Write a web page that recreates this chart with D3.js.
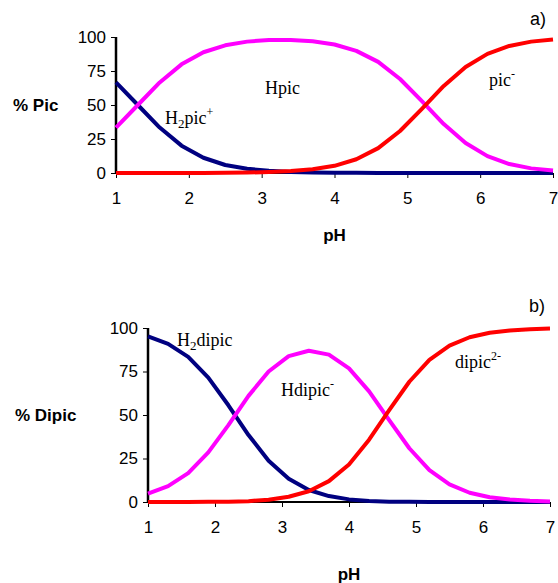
<!DOCTYPE html>
<html><head><meta charset="utf-8">
<script src="https://cdn.jsdelivr.net/npm/d3@7"></script>
<style>body{margin:0;background:#fff}svg{display:block}</style>
</head><body>
<svg id="c" width="558" height="583"></svg>
<script>
const pH = [1.0,1.3,1.6,1.9,2.2,2.5,2.8,3.1,3.4,3.7,4.0,4.3,4.6,4.9,5.2,5.5,5.8,6.1,6.4,6.7,7.0];
// chart a) picric
const H2pic = [66.6,50,33.4,20.1,11.2,5.9,3.1,1.6,0.8,0.4,0.2,0.1,0,0,0,0,0,0,0,0,0];
const Hpic  = [33.4,50,66.6,79.9,88.8,93.9,96.6,97.8,97.8,96.9,94.5,89.8,81.7,69.1,52.9,36.0,22.0,12.4,6.6,3.4,1.8];
const pic   = [0,0,0,0,0,0.2,0.3,0.7,1.4,2.7,5.3,10.1,18.3,30.9,47.1,64.0,78.0,87.6,93.4,96.6,98.2];
// chart b) dipicolinic
const H2dipic = [95.2,90.9,83.4,71.5,55.6,38.5,23.7,13.3,6.9,3.4,1.5,0.6,0.2,0.1,0,0,0,0,0,0,0];
const Hdipic  = [4.8,9.1,16.6,28.5,44.2,61.0,75.0,83.8,86.9,84.7,76.8,63.6,47.0,30.9,18.3,10.1,5.3,2.7,1.4,0.7,0.35];
const dipic   = [0,0,0,0.1,0.2,0.5,1.3,3.0,6.2,12.0,21.6,35.8,52.8,69.1,81.7,89.9,94.7,97.3,98.6,99.3,99.65];
const xTicks = [1,2,3,4,5,6,7];
const yTicks = [0,25,50,75,100];

const svg = d3.select("#c");
const colors = {navy:"#000080", pink:"#ff00ff", red:"#ff0000"};

function panel(o){
  const g = svg.append("g");
  const x = d3.scaleLinear().domain([1,7]).range([o.x0,o.x1]);
  const y = d3.scaleLinear().domain([0,100]).range([o.y0,o.y1]);
  // x axis
  const xa = g.append("g").attr("transform",`translate(0,${o.y0})`)
    .call(d3.axisBottom(x).tickValues(xTicks).tickFormat(d3.format("d")).tickSize(5).tickPadding(14));
  xa.select(".domain").attr("stroke","#000").attr("stroke-width",2).attr("d",`M${o.x0},0H${o.x1}`);
  xa.selectAll(".tick line").attr("stroke","#000");
  xa.selectAll("text").attr("font-family","Liberation Sans, Arial, sans-serif").attr("font-size",17).attr("fill","#000");
  // y axis
  const ya = g.append("g").attr("transform",`translate(${o.x0},0)`)
    .call(d3.axisLeft(y).tickValues(yTicks).tickSize(5).tickPadding(5));
  ya.select(".domain").attr("stroke","#000").attr("stroke-width",2.5).attr("d",`M0,${o.y0}V${o.y1}`);
  ya.selectAll(".tick line").attr("stroke","#000");
  ya.selectAll("text").attr("font-family","Liberation Sans, Arial, sans-serif").attr("font-size",17).attr("fill","#000");
  // lines
  const line = d3.line().x((d,i)=>x(pH[i])).y(d=>y(d));
  o.series.forEach(s=>{
    g.append("path").datum(s.v).attr("d",line).attr("fill","none")
      .attr("stroke",s.c).attr("stroke-width",4).attr("stroke-linejoin","round");
  });
  // titles
  g.append("text").attr("x",o.ylx).attr("y",y(50)+6).attr("font-family","Liberation Sans, Arial, sans-serif")
    .attr("font-weight","bold").attr("font-size",17).text(o.ylab);
  g.append("text").attr("x",(o.x0+o.x1)/2).attr("y",o.phy).attr("text-anchor","middle")
    .attr("font-family","Liberation Sans, Arial, sans-serif").attr("font-weight","bold").attr("font-size",17).text("pH");
  g.append("text").attr("x",o.tagx).attr("y",o.tagy).attr("font-family","Liberation Sans, Arial, sans-serif")
    .attr("font-size",18).text(o.tag);
  o.labels.forEach(l=>{
    const t = g.append("text").attr("x",l.x).attr("y",l.y).attr("font-family","Liberation Serif, Times New Roman, serif").attr("font-size",18);
    l.parts.forEach(p=>{
      const ts = t.append("tspan").text(p[0]);
      if(p[1]==="sub") ts.attr("font-size",13).attr("dy",4);
      if(p[1]==="sup") ts.attr("font-size",12).attr("dy",-8);
      if(p[1]==="back") ts.attr("dy",p[2]);
    });
  });
}

panel({x0:116,x1:553,y0:173,y1:37,ylab:"% Pic",ylx:13,phy:241,tag:"a)",tagx:530,tagy:25,
  series:[{v:H2pic,c:colors.navy},{v:Hpic,c:colors.pink},{v:pic,c:colors.red}],
  labels:[
    {x:265,y:94,parts:[["Hpic"]]},
    {x:165,y:124,parts:[["H"],["2","sub"],["pic","back",-4],["+","sup"]]},
    {x:489,y:86,parts:[["pic"],["-","sup"]]}
  ]});
panel({x0:148,x1:550,y0:502,y1:328,ylab:"% Dipic",ylx:15,phy:580,tag:"b)",tagx:529,tagy:312,
  series:[{v:H2dipic,c:colors.navy},{v:Hdipic,c:colors.pink},{v:dipic,c:colors.red}],
  labels:[
    {x:177,y:346,parts:[["H"],["2","sub"],["dipic","back",-4]]},
    {x:281,y:396,parts:[["Hdipic"],["-","sup"]]},
    {x:455,y:368,parts:[["dipic"],["2-","sup"]]}
  ]});
</script>
</body></html>
